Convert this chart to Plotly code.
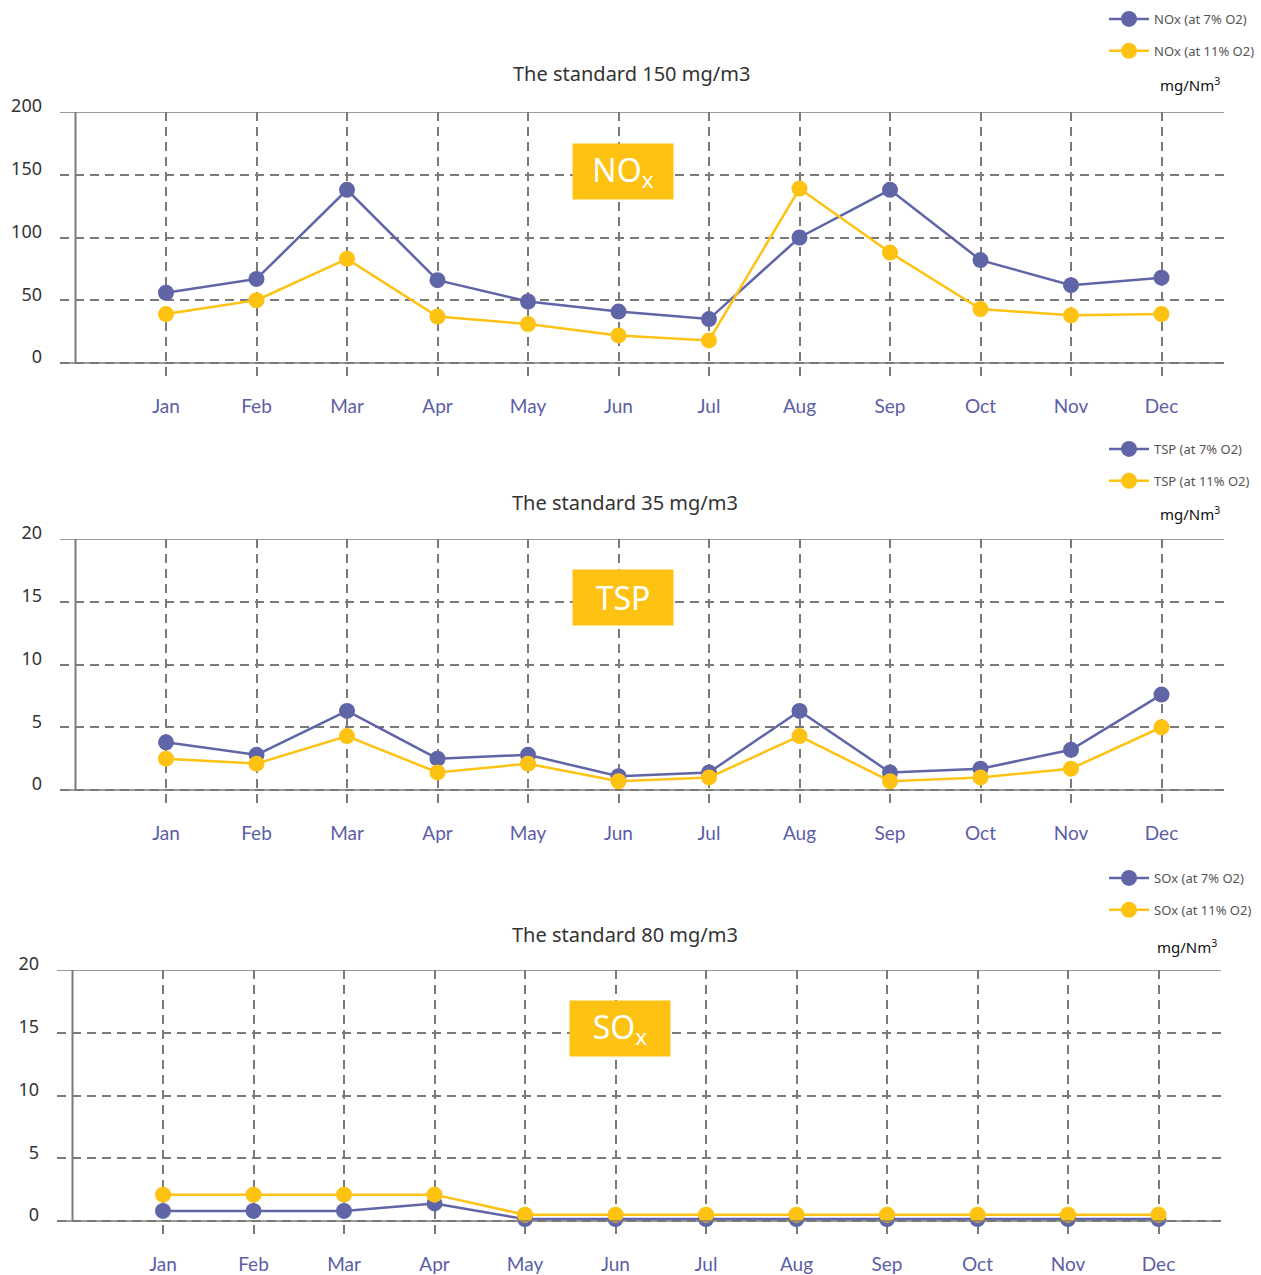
import plotly.graph_objects as go

W, H = 1261, 1275

months = ["Jan", "Feb", "Mar", "Apr", "May", "Jun",
          "Jul", "Aug", "Sep", "Oct", "Nov", "Dec"]

nox_7 = [56, 67, 138, 66, 49, 41, 35, 100, 138, 82, 62, 68]
nox_11 = [39, 50, 83, 37, 31, 22, 18, 139, 88, 43, 38, 39]

tsp_7 = [3.8, 2.8, 6.3, 2.5, 2.8, 1.1, 1.4, 6.3, 1.4, 1.7, 3.2, 7.6]
tsp_11 = [2.5, 2.1, 4.3, 1.4, 2.1, 0.7, 1.0, 4.3, 0.7, 1.0, 1.7, 5.0]

sox_7 = [0.8, 0.8, 0.8, 1.4, 0.15, 0.15, 0.15, 0.15, 0.15, 0.15, 0.15, 0.15]
sox_11 = [2.1, 2.1, 2.1, 2.1, 0.5, 0.5, 0.5, 0.5, 0.5, 0.5, 0.5, 0.5]

nox_ticks = [0, 50, 100, 150, 200]
small_ticks = [0, 5, 10, 15, 20]

BLUE = "#6065a8"
YELLOW = "#fdc212"
GRID = "#7a7a7a"
MONTH_COLOR = "#5b5ea6"


def fx(px):
    return px / W


def fy(py):
    return 1 - py / H


# pixel layout of the three panels
panels = [
    dict(name="NOx", series=(nox_7, nox_11), ticks=nox_ticks, ymax=200,
         left=60, right=1224, top=112, zero=363, title="The standard 150 mg/m3",
         title_xy=(631, 73), box=(572, 143), label="NO<sub>x</sub>",
         legend_top=4, unit_xy=(1190, 85)),
    dict(name="TSP", series=(tsp_7, tsp_11), ticks=small_ticks, ymax=20,
         left=60, right=1224, top=539, zero=790, title="The standard 35 mg/m3",
         title_xy=(625, 502), box=(572, 569), label="TSP",
         legend_top=434, unit_xy=(1190, 514)),
    dict(name="SOx", series=(sox_7, sox_11), ticks=small_ticks, ymax=20,
         left=57, right=1221, top=970, zero=1221, title="The standard 80 mg/m3",
         title_xy=(625, 935), box=(569, 1000), label="SO<sub>x</sub>",
         legend_top=863, unit_xy=(1187, 946)),
]

fig = go.Figure()
layout = dict(
    width=W, height=H,
    margin=dict(l=0, r=0, t=0, b=0, autoexpand=False),
    plot_bgcolor="white", paper_bgcolor="white",
    font=dict(family="Noto Sans", color="#333333"),
    shapes=[], annotations=[],
)

step = 90.5
for i, p in enumerate(panels):
    n = "" if i == 0 else str(i + 1)
    xa, ya = "x" + n, "y" + n
    leg = "legend" + n
    unit_px = (p["zero"] - p["top"]) / p["ymax"]
    bottom = p["zero"] + 14
    jan_px = p["left"] + 106
    x0 = -(jan_px - p["left"]) / step
    x1 = (p["right"] - jan_px) / step

    for vals, color, suffix in [(p["series"][0], BLUE, "7%"),
                                (p["series"][1], YELLOW, "11%")]:
        fig.add_trace(go.Scatter(
            x=months, y=vals, mode="lines+markers",
            name=f"{p['name']} (at {suffix} O2)",
            line=dict(color=color, width=2.5),
            marker=dict(color=color, size=16),
            xaxis=xa, yaxis=ya, legend=leg, legendgroup=f"{p['name']}{suffix}",
        ))

    layout["xaxis" + n] = dict(
        domain=[fx(p["left"]), fx(p["right"])], anchor=ya, automargin=False,
        range=[x0, x1], showgrid=True, gridcolor=GRID, gridwidth=1.5,
        griddash="9px,6px", zeroline=False, showline=False, ticks="",
        tickfont=dict(family="Lato", size=19, color=MONTH_COLOR),
        ticklabelstandoff=16,
    )
    layout["yaxis" + n] = dict(
        domain=[fy(bottom), fy(p["top"])], anchor=xa, automargin=False,
        range=[-14 / unit_px, p["ymax"]], tickvals=p["ticks"],
        showgrid=True, gridcolor=GRID, gridwidth=1.5, griddash="9px,6px",
        zeroline=False, showline=False, ticks="",
        tickfont=dict(size=18, color="#333333"),
        ticklabelstandoff=17, ticklabelshift=-6,
    )

    # solid frame lines: top, baseline and the y axis one step left of Jan
    for yv in (0, p["ymax"]):
        layout["shapes"].append(dict(
            type="line", xref=xa + " domain", yref=ya, x0=0, x1=1, y0=yv, y1=yv,
            line=dict(color="#7a7a7a", width=1.5)))
    layout["shapes"].append(dict(
        type="line", xref=xa, yref=ya, x0=-1, x1=-1, y0=0, y1=p["ymax"],
        line=dict(color="#7a7a7a", width=2)))

    tx, ty = p["title_xy"]
    layout["annotations"].append(dict(
        text=p["title"], xref="paper", yref="paper", x=fx(tx), y=fy(ty),
        xanchor="center", yanchor="middle", showarrow=False,
        font=dict(size=20, color="#333333")))

    bx, by = p["box"]
    layout["annotations"].append(dict(
        text=p["label"], xref="paper", yref="paper", x=fx(bx), y=fy(by),
        xanchor="left", yanchor="top", showarrow=False, width=100, height=55,
        bgcolor=YELLOW, borderpad=0, align="center", valign="middle",
        font=dict(size=32, color="white")))

    ux, uy = p["unit_xy"]
    layout["annotations"].append(dict(
        text="mg/Nm<sup>3</sup>", xref="paper", yref="paper", x=fx(ux), y=fy(uy),
        xanchor="center", yanchor="middle", showarrow=False,
        font=dict(size=15, color="#111111")))

    layout[leg] = dict(
        x=fx(1104), y=fy(p["legend_top"]), xanchor="left", yanchor="top",
        bgcolor="rgba(0,0,0,0)", font=dict(size=13, color="#555555"),
        tracegroupgap=12, itemwidth=40,
    )

fig.update_layout(**layout)
fig.write_html("out.html", config={"displayModeBar": False},
               post_script="document.body.style.margin='0px';")
